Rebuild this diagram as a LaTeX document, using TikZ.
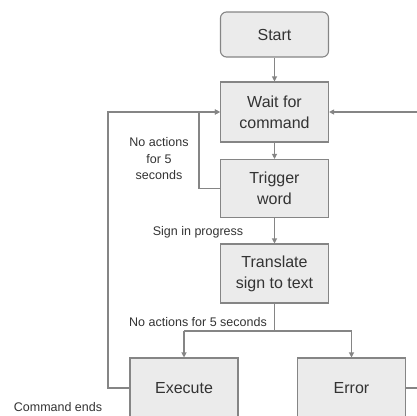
\documentclass[tikz,border=0pt]{standalone}
\usepackage{fontspec}
\setmainfont{Liberation Sans}
\usetikzlibrary{arrows.meta}
\definecolor{boxfill}{HTML}{EBEBEB}
\definecolor{lineclr}{HTML}{858585}
\definecolor{txtclr}{HTML}{333333}
\tikzset{
  stepbox/.style={draw=lineclr, line width=1.1pt, fill=boxfill, text=txtclr,
    minimum width=108pt, align=center, inner sep=0pt,
    font=\fontsize{16}{21}\selectfont},
  startbox/.style={stepbox, rounded corners=6pt},
  flow/.style={draw=lineclr, line width=1.1pt, -{Triangle[length=5pt,width=5pt]}},
  link/.style={draw=lineclr, line width=1.1pt},
  note/.style={text=txtclr, align=center, inner sep=0pt,
    font=\fontsize{12.5}{16.5}\selectfont}
}
\begin{document}
\begin{tikzpicture}[x=1pt,y=-1pt]
\useasboundingbox (0,0) rectangle (417,415);
\clip (0,0) rectangle (417,415);

% process steps
\node[startbox, minimum height=45pt] (start) at (274.5,34.5) {Start};
\node[stepbox, minimum height=60pt] (wait) at (274.5,112) {Wait for\\command};
\node[stepbox, minimum height=58pt] (trigger) at (274.5,188.5) {Trigger\\word};
\node[stepbox, minimum height=59pt] (translate) at (274.5,273.5) {Translate\\sign to text};
\node[stepbox, minimum height=60pt] (execute) at (184,388) {Execute};
\node[stepbox, minimum height=60pt] (error) at (351.5,388) {Error};

% junction points of the connectors
\coordinate (split) at (274.5,331);
\coordinate (splitL) at (184,331);
\coordinate (splitR) at (351.5,331);
\coordinate (innerB) at (199,188.5);
\coordinate (innerT) at (199,112);
\coordinate (outerB) at (108,388);
\coordinate (outerT) at (108,112);
\coordinate (rightT) at (420,112);
\coordinate (rightB) at (420,388);

% main flow
\draw[flow] (start) -- (wait);
\draw[flow] (wait) -- (trigger);
\draw[flow] (trigger) -- (translate);
\draw[link] (translate.south) -- (split);
\draw[link] (splitL) -- (splitR);
\draw[flow] (splitL) -- (execute.north);
\draw[flow] (splitR) -- (error.north);

% loops back to waiting
\draw[flow] (trigger.west) -- (innerB) -- (innerT) -- (wait.west);
\draw[flow] (execute.west) -- (outerB) -- (outerT) -- (wait.west);
\draw[link] (error.east) -- (rightB);
\draw[flow] (rightT) -- (wait.east);

% labels
\node[note] (l1) at (159,159) {No actions\\for 5\\seconds};
\node[note] (l2) at (198,232) {Sign in progress};
\node[note] (l3) at (198,322.5) {No actions for 5 seconds};
\node[note] (l4) at (58,407) {Command ends};
\end{tikzpicture}
\end{document}
